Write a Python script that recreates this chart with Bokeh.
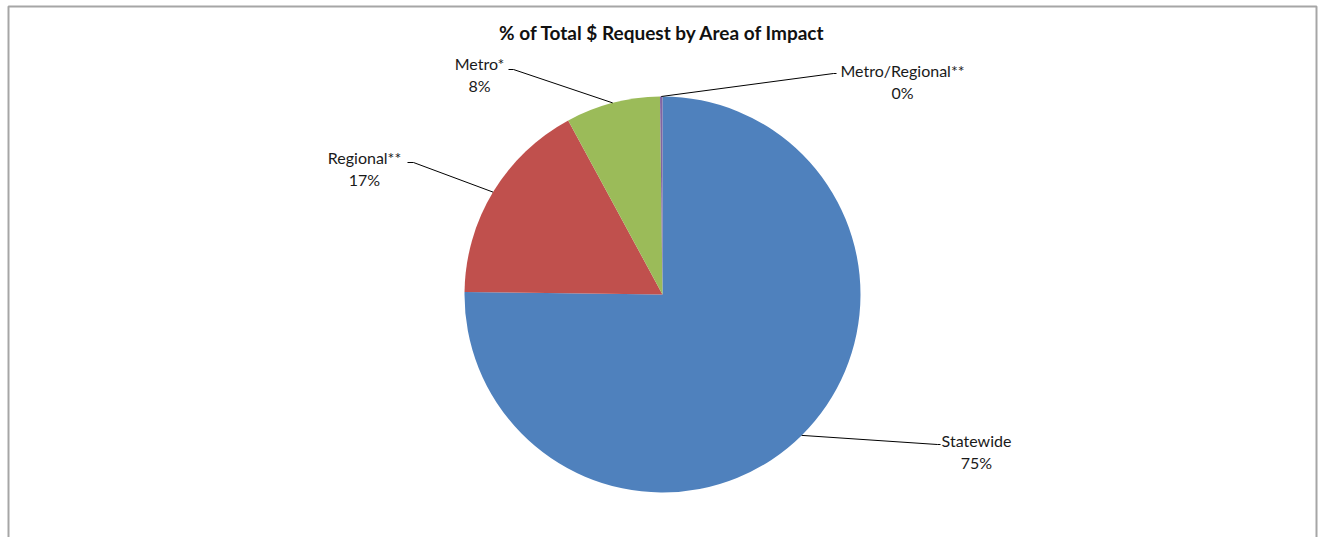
import math
from bokeh.plotting import figure
from bokeh.models import Range1d
from bokeh.core.properties import value
from bokeh.embed import file_html
from bokeh.resources import INLINE

# ---- data ----
categories = ["Statewide", "Regional**", "Metro*", "Metro/Regional**"]
shares = [75.2, 16.9, 7.7, 0.2]
colors = ["#4F81BD", "#C0504D", "#9BBB59", "#8064A2"]
title_text = "% of Total $ Request by Area of Impact"

# ---- layout (page pixel coordinates) ----
W, H = 1319, 537
def px(X):
    return X
def py(Y):
    return H - Y

CX, CY, R = 662, 294, 198
# label centre (x), first-line y, and leader elbow/end points (page px)
label_pos = {
    "Statewide": (976, 440, (940, 444), (937, 444)),
    "Regional**": (364, 157, (407, 162), (413, 162)),
    "Metro*": (479, 63, (508, 69), (513, 69)),
    "Metro/Regional**": (902, 70, (836, 73), (833, 73)),
}

p = figure(width=W, height=H, output_backend="svg", toolbar_location=None,
           x_range=Range1d(0, W), y_range=Range1d(0, H), min_border=0)
p.axis.visible = False
p.grid.visible = False
p.outline_line_color = None
p.background_fill_color = "white"
p.border_fill_color = "white"

# frame (left, top, right)
p.line([px(8), px(8), px(1316), px(1316)], [0, py(6), py(6), 0],
       line_color="#a6a6a6", line_width=2)

total = sum(shares)
cum = 0.0
starts, ends, mids = [], [], []
for v in shares:
    f0 = cum / total
    cum += v
    f1 = cum / total
    starts.append(math.pi / 2 - f0 * 2 * math.pi)
    ends.append(math.pi / 2 - f1 * 2 * math.pi)
    mids.append(math.pi / 2 - (f0 + f1) / 2 * 2 * math.pi)

p.wedge(x=px(CX), y=py(CY), radius=R, start_angle=starts, end_angle=ends,
        direction="clock", fill_color=colors, line_color=None)

font = value("Lato")
for cat, v, m in zip(categories, shares, mids):
    lx, ly, elbow, end = label_pos[cat]
    ex = CX + R * math.cos(m)
    ey = CY - R * math.sin(m)
    p.line([px(ex), px(end[0]), px(elbow[0])], [py(ey), py(end[1]), py(elbow[1])],
           line_color="black", line_width=1)
    p.text(x=[px(lx)], y=[py(ly)], text=[cat], text_font=font,
           text_font_size="16px", text_align="center", text_baseline="middle",
           text_color="#1a1a1a")
    p.text(x=[px(lx)], y=[py(ly + 22)], text=[f"{round(v)}%"], text_font=font,
           text_font_size="16px", text_align="center", text_baseline="middle",
           text_color="#1a1a1a")

p.text(x=[px(662)], y=[py(32)], text=[title_text], text_font=font,
       text_font_size="19px", text_font_style="bold", text_align="center",
       text_baseline="middle", text_color="#111111")

open("out.html", "w").write(file_html(p, INLINE))
